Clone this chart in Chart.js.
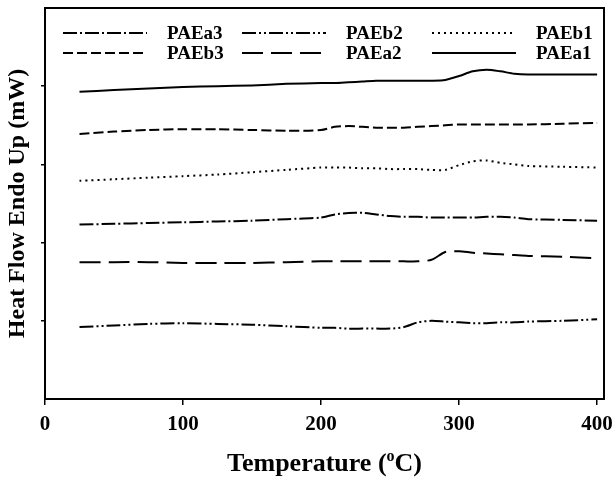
<!DOCTYPE html>
<html>
<head>
<meta charset="utf-8">
<script src="https://cdn.jsdelivr.net/npm/chart.js@4.4.0/dist/chart.umd.min.js"></script>
<style>
    html, body { margin: 0; padding: 0; background: #fff; }
    #wrap { width: 615px; height: 477px; }
</style>
</head>
<body>
<div id="wrap"><canvas id="dscChart" width="615" height="477"></canvas></div>
<script>
// ==================== DATA ====================

const temperatures = [25, 50, 75, 100, 125, 150, 175, 200, 210, 220, 230, 240, 250, 260, 270, 280, 290, 300, 310, 320, 330, 340, 350, 375, 400];

const paea3 = [2.23, 2.24, 2.25, 2.26, 2.27, 2.28, 2.30, 2.32, 2.36, 2.38, 2.38, 2.36, 2.34, 2.33, 2.33, 2.32, 2.32, 2.32, 2.32, 2.33, 2.33, 2.32, 2.30, 2.29, 2.28];
const paeb2 = [0.92, 0.94, 0.96, 0.97, 0.96, 0.95, 0.93, 0.91, 0.91, 0.90, 0.90, 0.90, 0.90, 0.92, 0.98, 1.00, 0.99, 0.98, 0.97, 0.97, 0.98, 0.98, 0.99, 1.00, 1.02];
const paeb1 = [2.79, 2.81, 2.83, 2.85, 2.87, 2.90, 2.93, 2.96, 2.96, 2.96, 2.95, 2.95, 2.94, 2.94, 2.94, 2.93, 2.93, 2.99, 3.04, 3.05, 3.02, 3.00, 2.98, 2.97, 2.96];
const paeb3 = [3.39, 3.42, 3.44, 3.45, 3.45, 3.44, 3.43, 3.44, 3.48, 3.49, 3.48, 3.47, 3.47, 3.47, 3.48, 3.49, 3.50, 3.51, 3.51, 3.51, 3.51, 3.51, 3.51, 3.52, 3.53];
const paea2 = [1.75, 1.75, 1.75, 1.74, 1.74, 1.74, 1.75, 1.76, 1.76, 1.76, 1.76, 1.76, 1.76, 1.76, 1.76, 1.78, 1.88, 1.89, 1.87, 1.86, 1.85, 1.84, 1.83, 1.82, 1.80];
const paea1 = [3.93, 3.95, 3.97, 3.99, 4.00, 4.01, 4.03, 4.04, 4.04, 4.05, 4.06, 4.07, 4.07, 4.07, 4.07, 4.07, 4.08, 4.13, 4.19, 4.21, 4.19, 4.16, 4.15, 4.15, 4.15];

const seriesLabels = ['PAEa3', 'PAEb2', 'PAEb1', 'PAEb3', 'PAEa2', 'PAEa1'];
const xTicks = [0, 100, 200, 300, 400];

// ==================== HELPERS ====================

const SERIF = '"Liberation Serif", "Times New Roman", serif';

function toPoints(values) {
    return values.map((v, i) => ({ x: temperatures[i], y: v }));
}

function makeDataset(label, values, dash) {
    return {
        label: label,
        data: toPoints(values),
        borderColor: '#000',
        borderWidth: 2,
        borderDash: dash,
        pointRadius: 0,
        fill: false,
        tension: 0.25
    };
}

// box round the plot area
const frameBox = {
    id: 'frameBox',
    afterDraw(chart) {
        const { ctx, chartArea: a } = chart;
        ctx.save();
        ctx.strokeStyle = '#000';
        ctx.lineWidth = 2;
        ctx.strokeRect(a.left, a.top, a.right - a.left, a.bottom - a.top);
        ctx.restore();
    }
};

// legend inside the plot, 3 columns x 2 rows
const lineLegend = {
    id: 'lineLegend',
    afterDraw(chart) {
        const ctx = chart.ctx;
        const colX = [63, 242, 432];
        const rowY = [33, 53];
        chart.data.datasets.forEach((ds, i) => {
            const x0 = colX[i % 3];
            const y = rowY[Math.floor(i / 3)];
            ctx.save();
            ctx.strokeStyle = '#000';
            ctx.lineWidth = 2;
            ctx.setLineDash(ds.borderDash || []);
            ctx.beginPath();
            ctx.moveTo(x0, y);
            ctx.lineTo(x0 + 84, y);
            ctx.stroke();
            ctx.setLineDash([]);
            ctx.fillStyle = '#000';
            ctx.font = 'bold 19px ' + SERIF;
            ctx.textBaseline = 'middle';
            ctx.fillText(ds.label, x0 + 104, y + 1);
            ctx.restore();
        });
    }
};

// x title with superscript o
const xTitle = {
    id: 'xTitle',
    afterDraw(chart) {
        const { ctx, chartArea: a } = chart;
        const big = 'bold 26px ' + SERIF;
        const small = 'bold 16px ' + SERIF;
        const parts = ['Temperature (', 'o', 'C)'];
        ctx.save();
        ctx.fillStyle = '#000';
        ctx.textBaseline = 'alphabetic';
        ctx.font = big;
        const w1 = ctx.measureText(parts[0]).width;
        const w3 = ctx.measureText(parts[2]).width;
        ctx.font = small;
        const w2 = ctx.measureText(parts[1]).width;
        let x = (a.left + a.right) / 2 - (w1 + w2 + w3) / 2;
        const base = 471;
        ctx.font = big;
        ctx.fillText(parts[0], x, base);
        x += w1;
        ctx.font = small;
        ctx.fillText(parts[1], x, base - 10);
        x += w2;
        ctx.font = big;
        ctx.fillText(parts[2], x, base);
        ctx.restore();
    }
};

// ==================== CHART ====================

const ctx = document.getElementById('dscChart');

new Chart(ctx, {
    type: 'line',
    data: {
        datasets: [
            makeDataset(seriesLabels[0], paea3, [14, 3, 2, 3]),
            makeDataset(seriesLabels[1], paeb2, [14, 3, 2, 3, 2, 3]),
            makeDataset(seriesLabels[2], paeb1, [2, 4]),
            makeDataset(seriesLabels[3], paeb3, [10, 4]),
            makeDataset(seriesLabels[4], paea2, [21, 8]),
            makeDataset(seriesLabels[5], paea1, [])
        ]
    },
    options: {
        responsive: false,
        animation: false,
        layout: { padding: { top: 8, right: 11, left: 0, bottom: 0 } },
        plugins: {
            legend: { display: false },
            tooltip: { enabled: false }
        },
        scales: {
            x: {
                type: 'linear',
                min: 0,
                max: 405,
                afterBuildTicks: (scale) => { scale.ticks = xTicks.map(v => ({ value: v })); },
                afterFit: (scale) => {
                    scale.height = 78;
                    scale.paddingLeft = 0;
                    scale.paddingRight = 0;
                },
                border: { display: true, color: '#000', width: 2 },
                grid: { drawOnChartArea: false, drawTicks: true, tickLength: 6, color: '#000', lineWidth: 1.5 },
                ticks: {
                    color: '#000',
                    padding: 7,
                    maxRotation: 0,
                    font: { family: SERIF, size: 21, weight: 'bold' }
                },
                title: { display: false }
            },
            y: {
                min: 0,
                max: 5,
                afterFit: (scale) => { scale.width = 45; },
                border: { display: true, color: '#000', width: 2 },
                grid: {
                    drawOnChartArea: false,
                    drawTicks: true,
                    tickLength: 4,
                    lineWidth: 1.5,
                    tickColor: (c) => (c.tick && (c.tick.value === 0 || c.tick.value === 5)) ? 'rgba(0,0,0,0)' : '#000'
                },
                ticks: { display: false, stepSize: 1 },
                title: {
                    display: true,
                    text: 'Heat Flow Endo Up (mW)',
                    color: '#000',
                    padding: { top: 3, bottom: 0 },
                    font: { family: SERIF, size: 24, weight: 'bold' }
                }
            }
        }
    },
    plugins: [frameBox, lineLegend, xTitle]
});
</script>
</body>
</html>
